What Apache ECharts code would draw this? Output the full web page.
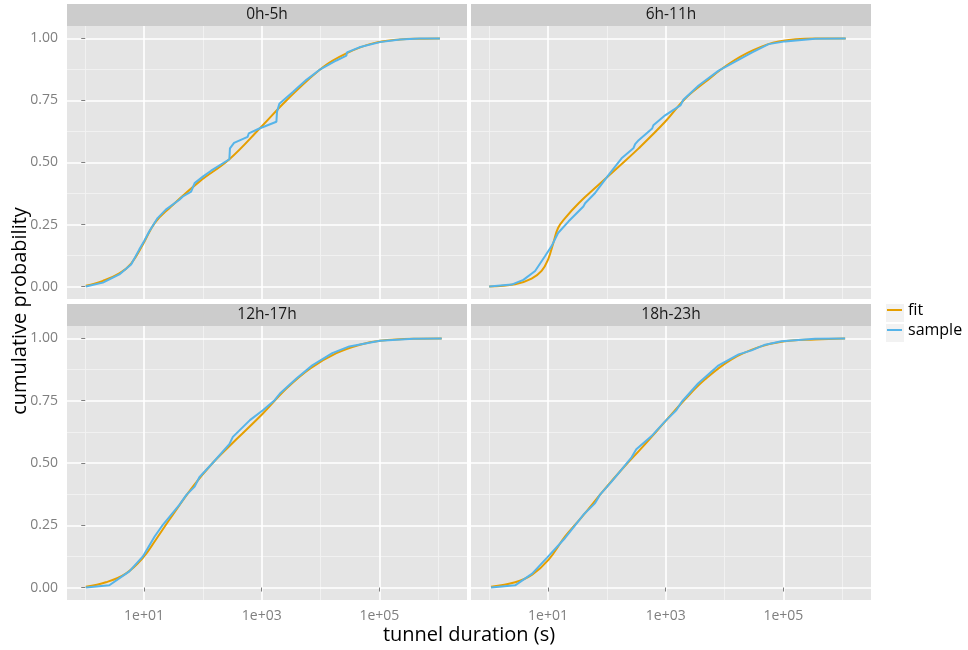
<!DOCTYPE html>
<html>
<head>
<meta charset="utf-8">
<title>Tunnel duration CDF by time of day</title>
<script src="https://cdn.jsdelivr.net/npm/echarts@6/dist/echarts.min.js"></script>
<style>
  html, body { margin: 0; padding: 0; background: #ffffff; }
  #chart { width: 968px; height: 650px; }
</style>
</head>
<body>
<div id="chart"></div>
<script>
// Facet labels (hour-of-day buckets)
const panelNames = ['0h-5h', '6h-11h', '12h-17h', '18h-23h'];

// x values are log10 of tunnel duration in seconds; p is cumulative probability
const fitX_0_5 = [0.01, 0.30, 0.58, 0.78, 0.98, 1.18, 1.43, 1.94, 2.45, 2.99, 3.42, 4.04, 4.44, 4.89, 5.35, 5.70, 6.03];
const fitP_0_5 = [0.003, 0.023, 0.053, 0.093, 0.170, 0.256, 0.316, 0.423, 0.513, 0.643, 0.750, 0.884, 0.940, 0.980, 0.996, 0.999, 1.000];
const sampleX_0_5 = [0.01, 0.30, 0.58, 0.78, 0.92, 1.00, 1.09, 1.23, 1.37, 1.60, 1.66, 1.80, 1.86, 2.00, 2.14, 2.45, 2.46, 2.53, 2.76, 2.78, 2.96, 3.25, 3.26, 3.30, 3.53, 3.59, 3.76, 3.98, 4.27, 4.44, 4.45, 4.66, 5.01, 5.35, 5.69, 6.03];
const sampleP_0_5 = [0.000, 0.016, 0.049, 0.089, 0.150, 0.183, 0.223, 0.276, 0.310, 0.350, 0.363, 0.383, 0.417, 0.443, 0.467, 0.513, 0.557, 0.579, 0.603, 0.617, 0.637, 0.664, 0.704, 0.737, 0.784, 0.797, 0.833, 0.873, 0.911, 0.931, 0.944, 0.964, 0.985, 0.996, 1.000, 1.000];

const fitX_6_11 = [0.00, 0.44, 0.72, 0.89, 1.00, 1.09, 1.17, 1.29, 1.52, 1.86, 2.20, 2.54, 2.99, 3.33, 3.67, 4.07, 4.47, 4.92, 5.54, 6.06];
const fitP_6_11 = [0.000, 0.009, 0.032, 0.063, 0.109, 0.176, 0.236, 0.276, 0.336, 0.410, 0.483, 0.557, 0.664, 0.757, 0.824, 0.897, 0.951, 0.988, 1.000, 1.000];
const sampleX_6_11 = [0.00, 0.38, 0.58, 0.78, 0.95, 1.06, 1.17, 1.35, 1.60, 1.63, 1.80, 1.86, 2.03, 2.25, 2.45, 2.48, 2.54, 2.77, 2.79, 2.99, 3.25, 3.30, 3.56, 3.90, 4.47, 4.75, 5.03, 5.54, 6.06];
const sampleP_6_11 = [0.000, 0.008, 0.027, 0.063, 0.123, 0.163, 0.216, 0.263, 0.323, 0.336, 0.377, 0.397, 0.450, 0.517, 0.557, 0.574, 0.590, 0.637, 0.650, 0.690, 0.730, 0.753, 0.810, 0.870, 0.944, 0.977, 0.988, 0.999, 1.000];

const fitX_12_17 = [0.01, 0.35, 0.69, 0.98, 1.20, 1.43, 1.83, 2.17, 2.57, 3.02, 3.42, 3.82, 4.27, 4.67, 5.01, 5.58, 6.06];
const fitP_12_17 = [0.003, 0.021, 0.056, 0.119, 0.192, 0.272, 0.405, 0.501, 0.595, 0.699, 0.799, 0.879, 0.941, 0.975, 0.991, 0.999, 1.000];
const sampleX_12_17 = [0.01, 0.41, 0.75, 0.98, 1.18, 1.32, 1.60, 1.72, 1.86, 1.94, 2.17, 2.45, 2.51, 2.80, 3.02, 3.22, 3.31, 3.59, 3.86, 4.20, 4.49, 5.01, 5.58, 6.06];
const sampleP_12_17 = [0.000, 0.009, 0.065, 0.125, 0.205, 0.252, 0.332, 0.372, 0.405, 0.443, 0.501, 0.576, 0.605, 0.672, 0.712, 0.752, 0.779, 0.839, 0.892, 0.941, 0.968, 0.991, 0.999, 1.000];

const fitX_18_23 = [0.03, 0.44, 0.73, 1.01, 1.29, 1.58, 1.92, 2.26, 2.60, 3.00, 3.33, 3.67, 4.12, 4.58, 4.97, 5.54, 6.05];
const fitP_18_23 = [0.003, 0.021, 0.052, 0.112, 0.205, 0.285, 0.383, 0.476, 0.563, 0.669, 0.756, 0.836, 0.916, 0.965, 0.987, 0.996, 1.000];
const sampleX_18_23 = [0.03, 0.44, 0.73, 0.98, 1.29, 1.60, 1.80, 1.88, 2.08, 2.42, 2.50, 2.76, 2.98, 3.18, 3.27, 3.55, 3.90, 4.24, 4.46, 4.69, 4.97, 5.54, 6.05];
const sampleP_18_23 = [0.000, 0.009, 0.056, 0.119, 0.199, 0.292, 0.339, 0.372, 0.425, 0.523, 0.555, 0.608, 0.665, 0.712, 0.745, 0.819, 0.892, 0.936, 0.952, 0.975, 0.989, 0.999, 1.000];

// Axis breaks (x in log10 seconds)
const xMajorBreaks = [1, 3, 5];
const xTickLabels = ['1e+01', '1e+03', '1e+05'];
const xMinorBreaks = [0, 2, 4, 6];
const yMajorBreaks = [0, 0.25, 0.5, 0.75, 1];
const yTickLabels = ['0.00', '0.25', '0.50', '0.75', '1.00'];
const yMinorBreaks = [0.125, 0.375, 0.625, 0.875];

const seriesNames = ['fit', 'sample'];
const seriesColors = ['#E69F00', '#56B4E9'];

const panelFit = [[fitX_0_5, fitP_0_5], [fitX_6_11, fitP_6_11], [fitX_12_17, fitP_12_17], [fitX_18_23, fitP_18_23]];
const panelSample = [[sampleX_0_5, sampleP_0_5], [sampleX_6_11, sampleP_6_11], [sampleX_12_17, sampleP_12_17], [sampleX_18_23, sampleP_18_23]];

const FONT = '"Open Sans", "DejaVu Sans", sans-serif';
const grids = [
  { left: 67, top: 26, width: 400, height: 273 },
  { left: 471, top: 26, width: 400, height: 273 },
  { left: 67, top: 326, width: 400, height: 274 },
  { left: 471, top: 326, width: 400, height: 274 }
];
const X_MIN = -0.31, X_MAX = 6.49, Y_MIN = -0.05, Y_MAX = 1.05;

const xAxes = [], yAxes = [], series = [], graphics = [];

grids.forEach((g, i) => {
  const bottomRow = i >= 2;
  const leftCol = i % 2 === 0;
  // minor grid axes
  xAxes.push({
    type: 'value', gridIndex: i, position: 'bottom', min: X_MIN, max: X_MAX, z: 0,
    axisLine: { show: false }, axisTick: { show: false, customValues: xMinorBreaks },
    axisLabel: { show: false, customValues: xMinorBreaks },
    splitLine: { show: true, lineStyle: { color: '#f2f2f2', width: 0.9 } }
  });
  yAxes.push({
    type: 'value', gridIndex: i, position: 'left', min: Y_MIN, max: Y_MAX, z: 0,
    axisLine: { show: false }, axisTick: { show: false, customValues: yMinorBreaks },
    axisLabel: { show: false, customValues: yMinorBreaks },
    splitLine: { show: true, lineStyle: { color: '#f2f2f2', width: 0.9 } }
  });
  // major grid axes, with ticks and labels on outer panels
  xAxes.push({
    type: 'value', gridIndex: i, position: 'bottom', min: X_MIN, max: X_MAX, z: 1,
    axisLine: { show: false },
    axisTick: { show: bottomRow, length: 4, customValues: xMajorBreaks, lineStyle: { color: '#7f7f7f', width: 1 } },
    axisLabel: {
      show: bottomRow, customValues: xMajorBreaks, margin: 9,
      color: '#7f7f7f', fontSize: 14, fontFamily: FONT,
      formatter: v => xTickLabels[xMajorBreaks.indexOf(v)] || ''
    },
    splitLine: { show: true, lineStyle: { color: '#ffffff', width: 1.6 } }
  });
  yAxes.push({
    type: 'value', gridIndex: i, position: 'left', min: Y_MIN, max: Y_MAX, z: 1,
    axisLine: { show: false },
    axisTick: { show: leftCol, length: 4, customValues: yMajorBreaks, lineStyle: { color: '#7f7f7f', width: 1 } },
    axisLabel: {
      show: leftCol, customValues: yMajorBreaks, margin: 9,
      color: '#7f7f7f', fontSize: 14, fontFamily: FONT,
      formatter: v => yTickLabels[yMajorBreaks.indexOf(v)] || ''
    },
    splitLine: { show: true, lineStyle: { color: '#ffffff', width: 1.6 } }
  });

  const xi = 2 * i + 1, yi = 2 * i + 1;
  const fit = panelFit[i], smp = panelSample[i];
  series.push({
    name: seriesNames[0], type: 'line', xAxisIndex: xi, yAxisIndex: yi,
    data: fit[0].map((x, k) => [x, fit[1][k]]),
    showSymbol: false, symbol: 'none', smooth: 0.4,
    lineStyle: { color: seriesColors[0], width: 2 }, itemStyle: { color: seriesColors[0] },
    z: 3, silent: true
  });
  series.push({
    name: seriesNames[1], type: 'line', xAxisIndex: xi, yAxisIndex: yi,
    data: smp[0].map((x, k) => [x, smp[1][k]]),
    showSymbol: false, symbol: 'none', smooth: false,
    lineStyle: { color: seriesColors[1], width: 2 }, itemStyle: { color: seriesColors[1] },
    z: 4, silent: true
  });

  // facet strip
  graphics.push({
    type: 'rect', left: g.left, top: g.top - 22,
    shape: { width: g.width, height: 22 },
    style: { fill: '#cccccc' }, silent: true
  });
  graphics.push({
    type: 'text', x: g.left + g.width / 2, y: g.top - 11,
    style: {
      text: panelNames[i], fill: '#1a1a1a', font: '15.5px ' + FONT,
      textAlign: 'center', textVerticalAlign: 'middle'
    }, silent: true
  });
});

// axis titles
graphics.push({
  type: 'text', x: 469, y: 635,
  style: { text: 'tunnel duration (s)', fill: '#000000', font: '20px ' + FONT, textAlign: 'center', textVerticalAlign: 'middle' },
  silent: true
});
graphics.push({
  type: 'text', x: 20, y: 311, rotation: Math.PI / 2,
  style: { text: 'cumulative probability', fill: '#000000', font: '20px ' + FONT, textAlign: 'center', textVerticalAlign: 'middle' },
  silent: true
});
// legend key backgrounds
[313, 333].forEach(cy => {
  graphics.push({
    type: 'rect', left: 886, top: cy - 9,
    shape: { width: 18, height: 18 },
    style: { fill: '#f2f2f2' }, silent: true, z: -1
  });
});

const chart = echarts.init(document.getElementById('chart'), null, { renderer: 'canvas' });
chart.setOption({
  animation: false,
  backgroundColor: '#ffffff',
  grid: grids.map(g => Object.assign({ show: true, backgroundColor: '#e5e5e5', borderWidth: 0, containLabel: false }, g)),
  xAxis: xAxes,
  yAxis: yAxes,
  series: series,
  legend: {
    data: seriesNames, orient: 'vertical', left: 887, top: 302, padding: 0,
    icon: 'rect', itemWidth: 15, itemHeight: 2, itemGap: 4,
    textStyle: { color: '#000000', fontSize: 16, fontFamily: FONT, padding: [0, 0, 0, 1] },
    selectedMode: false
  },
  graphic: graphics
});
</script>
</body>
</html>
